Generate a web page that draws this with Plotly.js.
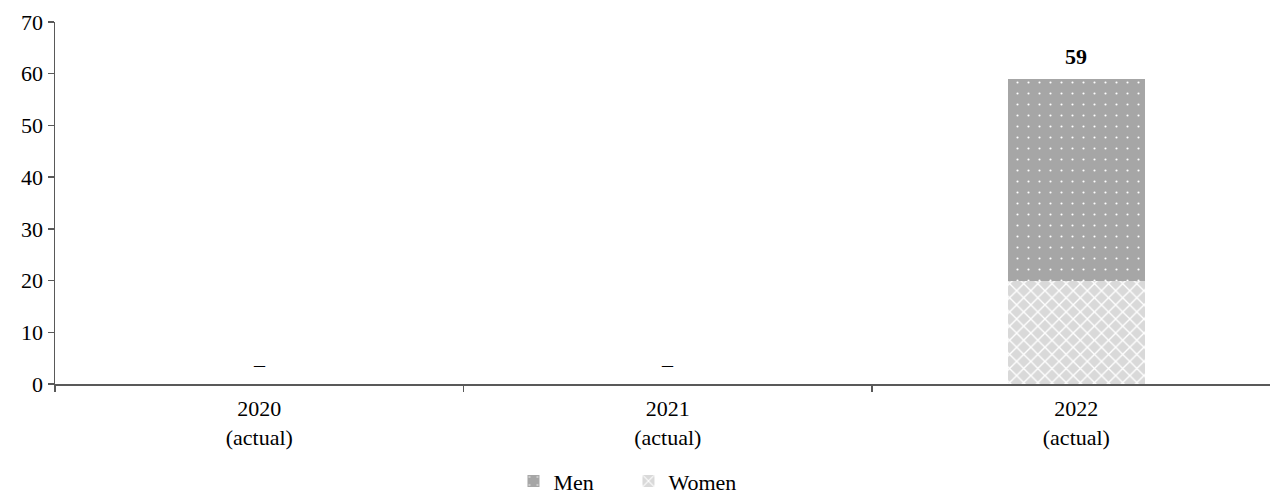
<!DOCTYPE html>
<html>
<head>
<meta charset="utf-8">
<script src="https://cdn.plot.ly/plotly-3.0.1.min.js"></script>
<style>
  html, body { margin: 0; padding: 0; background: #ffffff; }
  #chart { width: 1270px; height: 494px; }
</style>
</head>
<body>
<div id="chart"></div>
<script>
// Headcount by year, split by sex
const years = ["2020<br>(actual)", "2021<br>(actual)", "2022<br>(actual)"];
const men = [0, 0, 39];
const women = [0, 0, 20];

const totals = years.map((_, i) => men[i] + women[i]);

const font = { family: "Liberation Serif, Times New Roman, serif", size: 22, color: "#000000" };

const menTrace = {
  type: "bar",
  name: "Men",
  x: years,
  y: men,
  width: 0.335,
  legendrank: 1,
  marker: {
    color: "#a6a6a6",
    line: { width: 0 },
    pattern: { shape: ".", fgcolor: "#ffffff", bgcolor: "#a6a6a6", size: 11, solidity: 0.03, fillmode: "replace" }
  },
  hoverinfo: "skip"
};

const womenTrace = {
  type: "bar",
  name: "Women",
  x: years,
  y: women,
  width: 0.335,
  legendrank: 2,
  marker: {
    color: "#d9d9d9",
    line: { width: 0 },
    pattern: { shape: "x", fgcolor: "#ffffff", bgcolor: "#d9d9d9", size: 10, solidity: 0.25, fillmode: "replace" }
  },
  hoverinfo: "skip"
};

// Women at the base of each stack, men above
const data = [womenTrace, menTrace];

// Total above each stack; a dash where the total is zero
const annotations = years.map((c, i) => ({
  x: c,
  y: totals[i],
  xref: "x",
  yref: "y",
  text: totals[i] > 0 ? "<b>" + totals[i] + "</b>" : "–",
  showarrow: false,
  yanchor: "bottom",
  yshift: totals[i] > 0 ? 8 : 5,
  font: font
}));

const layout = {
  width: 1270,
  height: 494,
  margin: { l: 55, r: 0, t: 22, b: 110, autoexpand: false },
  paper_bgcolor: "#ffffff",
  plot_bgcolor: "#ffffff",
  font: font,
  barmode: "stack",
  showlegend: true,
  legend: {
    orientation: "h",
    xref: "paper",
    x: 0.472,
    xanchor: "center",
    yref: "container",
    y: 0.026,
    yanchor: "middle",
    font: font,
    traceorder: "normal",
    entrywidth: 70,
    entrywidthmode: "pixels",
    itemwidth: 30
  },
  xaxis: {
    type: "category",
    range: [-0.5, 2.474],
    showline: true,
    linecolor: "#595959",
    linewidth: 1.5,
    ticks: "outside",
    tickson: "boundaries",
    ticklen: 6,
    tickcolor: "#595959",
    tickwidth: 1.5,
    showgrid: false,
    zeroline: false,
    tickfont: font,
    ticklabelstandoff: 4,
    automargin: false,
    fixedrange: true
  },
  yaxis: {
    range: [0, 70],
    dtick: 10,
    showline: true,
    linecolor: "#595959",
    linewidth: 1.5,
    ticks: "outside",
    ticklen: 6,
    tickcolor: "#595959",
    tickwidth: 1.5,
    showgrid: false,
    zeroline: false,
    tickfont: font,
    ticklabelstandoff: 0,
    automargin: false,
    fixedrange: true
  },
  annotations: annotations
};

Plotly.newPlot("chart", data, layout, { displayModeBar: false, staticPlot: true });
</script>
</body>
</html>
